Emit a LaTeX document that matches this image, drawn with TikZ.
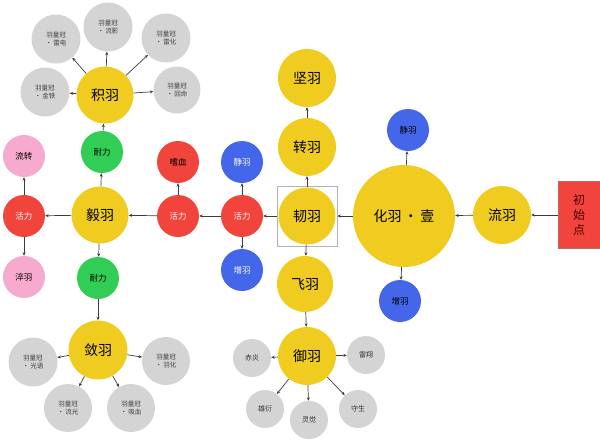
\documentclass[tikz,border=0pt]{standalone}
\usepackage{fontspec}
\setmainfont{Noto Sans CJK SC}
\usetikzlibrary{arrows.meta}
\definecolor{cyel}{RGB}{240,204,32}
\definecolor{cblue}{RGB}{68,102,232}
\definecolor{cred}{RGB}{240,68,60}
\definecolor{cgreen}{RGB}{50,205,85}
\definecolor{cpink}{RGB}{246,170,206}
\definecolor{cgray}{RGB}{212,212,212}
\definecolor{cline}{RGB}{60,60,60}
\tikzset{
  yel/.style={circle, fill=cyel, inner sep=0pt, font=\fontsize{14}{14}\selectfont},
  small/.style={circle, inner sep=0pt, minimum size=42pt, font=\fontsize{8.5}{8.5}\selectfont},
  blu/.style={small, fill=cblue},
  rd/.style={small, fill=cred},
  grn/.style={small, fill=cgreen},
  pnk/.style={small, fill=cpink},
  wtxt/.style={text=white},
  gry/.style={circle, fill=cgray, inner sep=0pt, minimum size=49pt, align=center, font=\fontsize{6.5}{8}\selectfont, text=black!75},
  gry2/.style={circle, fill=cgray, inner sep=0pt, minimum size=38pt, font=\fontsize{7}{7}\selectfont, text=black!80},
  arr/.style={draw=cline, line width=0.7pt, -{Stealth[length=3.5pt,width=3pt]}},
}
\begin{document}
\begin{tikzpicture}[x=1pt,y=-1pt]
\useasboundingbox (0,0) rectangle (600,442);
% start
\node[draw=red!60!black!60, line width=1pt, fill=cred, minimum width=42pt, minimum height=67pt, inner sep=0pt, align=center, text=red!30!black, font=\fontsize{12}{15}\selectfont] (start) at (579,215) {初\\始\\点};
\node[yel, minimum size=58pt] (liu) at (502,215) {流羽};
\node[yel, minimum size=102pt] (hua) at (404,216) {化羽\,•\,壹};
\node[blu] (hjing) at (408,130) {静羽};
\node[blu] (hzeng) at (400,301) {增羽};
\node[yel, minimum size=57pt] (ren) at (307,216) {韧羽};
\node[draw=black!30, line width=0.6pt, minimum size=60pt, inner sep=0pt] (sel) at (307,216) {};
\node[yel, minimum size=58pt] (zhuan) at (307,147) {转羽};
\node[yel, minimum size=58pt] (jian) at (307,78) {坚羽};
\node[yel, minimum size=56pt] (fei) at (305,284) {飞羽};
\node[yel, minimum size=58pt] (yu) at (307,356) {御羽};
\node[gry2] (chiyan) at (252,358) {赤炎};
\node[gry2] (leixiang) at (366,355) {雷翔};
\node[gry2] (xiongyan) at (265,409) {雄衍};
\node[gry2] (lingjue) at (309,420) {灵觉};
\node[gry2] (shousheng) at (358,409) {守生};
\node[rd, wtxt] (huo1) at (242,216) {活力};
\node[blu, wtxt] (jing1) at (242,162) {静羽};
\node[blu, wtxt] (zeng1) at (242,270) {增羽};
\node[rd, wtxt] (huo2) at (178,216) {活力};
\node[rd] (shixue) at (178,162) {嗜血};
\node[yel, minimum size=57pt] (yi) at (100,215) {毅羽};
\node[grn] (nai1) at (102,152) {耐力};
\node[grn] (nai2) at (98,278) {耐力};
\node[rd, wtxt] (huo3) at (24,216) {活力};
\node[pnk] (liuzhuan) at (24,156) {流转};
\node[pnk] (cui) at (24,277) {淬羽};
\node[yel, minimum size=57pt] (ji) at (105,95) {积羽};
\node[gry] (g1) at (56,39) {羽量冠\\• 雷电};
\node[gry] (g2) at (108,27) {羽量冠\\• 流影};
\node[gry] (g3) at (166,38) {羽量冠\\• 雷化};
\node[gry, minimum size=47pt] (g4) at (177,90) {羽量冠\\• 回命};
\node[gry] (g5) at (45,92) {羽量冠\\• 金铁};
\node[yel, minimum size=59pt] (lian) at (98,350) {敛羽};
\node[gry] (b1) at (33,362) {羽量冠\\• 光语};
\node[gry, minimum size=48pt] (b2) at (68,408) {羽量冠\\• 流光};
\node[gry, minimum size=48pt] (b3) at (131,408) {羽量冠\\• 吸血};
\node[gry, minimum size=48pt] (b4) at (166,361) {羽量冠\\• 羽化};
% connectors
\draw[arr] (start) -- (liu);
\draw[arr] (liu) -- (hua);
\draw[arr] (hua) -- (sel);
\draw[arr] (hua) -- (hjing);
\draw[arr] (hua) -- (hzeng);
\draw[arr] (ren) -- (zhuan);
\draw[arr] (zhuan) -- (jian);
\draw[arr] (ren) -- (fei);
\draw[arr] (fei) -- (yu);
\draw[arr] (yu) -- (chiyan);
\draw[arr] (yu) -- (leixiang);
\draw[arr] (yu) -- (xiongyan);
\draw[arr] (yu) -- (lingjue);
\draw[arr] (yu) -- (shousheng);
\draw[arr] (sel) -- (huo1);
\draw[arr] (huo1) -- (jing1);
\draw[arr] (huo1) -- (zeng1);
\draw[arr] (huo1) -- (huo2);
\draw[arr] (huo2) -- (shixue);
\draw[arr] (huo2) -- (yi);
\draw[arr] (yi) -- (huo3);
\draw[arr] (huo3) -- (liuzhuan);
\draw[arr] (huo3) -- (cui);
\draw[arr] (yi) -- (nai1);
\draw[arr] (nai1) -- (ji);
\draw[arr] (yi) -- (nai2);
\draw[arr] (nai2) -- (lian);
\draw[arr] (ji) -- (g1);
\draw[arr] (ji) -- (g2);
\draw[arr] (ji) -- (g3);
\draw[arr] (ji) -- (g4);
\draw[arr] (ji) -- (g5);
\draw[arr] (lian) -- (b1);
\draw[arr] (lian) -- (b2);
\draw[arr] (lian) -- (b3);
\draw[arr] (lian) -- (b4);
\end{tikzpicture}
\end{document}
